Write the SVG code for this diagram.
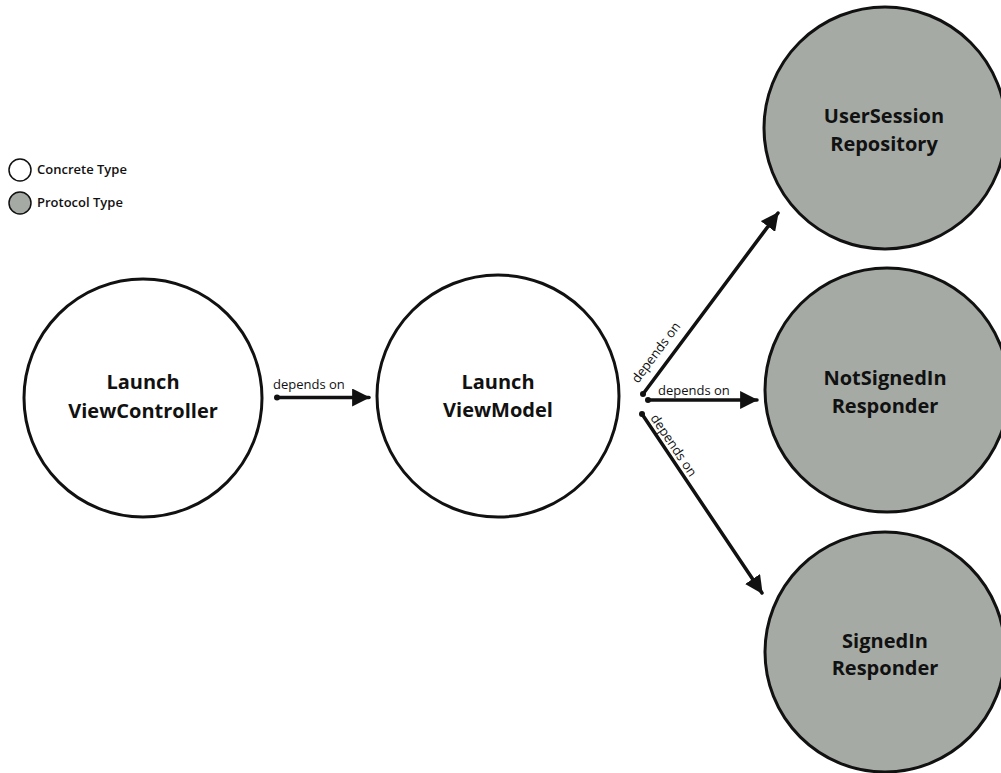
<svg xmlns="http://www.w3.org/2000/svg" width="1001" height="773" viewBox="0 0 1001 773">
<style>
.bg{fill:#ffffff}
.node{stroke:#111;stroke-width:3}
.legend-swatch{stroke:#111;stroke-width:1.5}
.concrete{fill:#ffffff}
.protocol{fill:#a5aaa5}
.label{font-family:"Open Sans","Liberation Sans",sans-serif;font-weight:700;font-size:20px;fill:#111;text-anchor:middle}
.legend{font-family:"Open Sans","Liberation Sans",sans-serif;font-weight:600;font-size:13px;fill:#111}
.edge{stroke:#111;stroke-width:3.5;fill:none;stroke-linecap:round}
.elabel{font-family:"Open Sans","Liberation Sans",sans-serif;font-size:13px;fill:#111}
.dot{fill:#111}
</style>
<defs>
<marker id="arrow" markerUnits="userSpaceOnUse" markerWidth="18" markerHeight="18" viewBox="0 0 16 16" refX="15" refY="8" orient="auto">
<path d="M0,0 L16,8 L0,16 Z" fill="#111"/>
</marker>
</defs>
<rect class="bg" x="0" y="0" width="1001" height="773"/>
<g id="legend">
<circle class="legend-swatch concrete" cx="20" cy="170" r="11"/>
<text class="legend" x="37" y="174">Concrete Type</text>
<circle class="legend-swatch protocol" cx="20" cy="203" r="11"/>
<text class="legend" x="37" y="207">Protocol Type</text>
</g>
<g id="connectors">
<line class="edge" x1="277" y1="397.5" x2="369" y2="397.5" marker-end="url(#arrow)"/>
<circle class="dot" cx="277" cy="397.5" r="3"/>
<text class="elabel" x="273" y="389">depends on</text>
<line class="edge" x1="643" y1="394" x2="778" y2="213" marker-end="url(#arrow)"/>
<circle class="dot" cx="643" cy="394" r="3"/>
<text class="elabel" transform="translate(638,384) rotate(-53.3)">depends on</text>
<line class="edge" x1="648" y1="400" x2="757" y2="400" marker-end="url(#arrow)"/>
<circle class="dot" cx="648" cy="400" r="3"/>
<text class="elabel" x="658" y="395">depends on</text>
<line class="edge" x1="642" y1="414" x2="762" y2="593" marker-end="url(#arrow)"/>
<circle class="dot" cx="642" cy="414" r="3"/>
<text class="elabel" transform="translate(650,418) rotate(56.2)">depends on</text>
</g>
<g id="node-launch-viewcontroller">
<circle class="node concrete" cx="143" cy="398" r="119"/>
<text class="label" x="143" y="389">Launch</text>
<text class="label" x="143" y="418">ViewController</text>
</g>
<g id="node-launch-viewmodel">
<circle class="node concrete" cx="498" cy="396" r="121"/>
<text class="label" x="498" y="389">Launch</text>
<text class="label" x="498" y="417">ViewModel</text>
</g>
<g id="node-usersession-repository">
<circle class="node protocol" cx="885" cy="128" r="121"/>
<text class="label" x="884" y="123">UserSession</text>
<text class="label" x="884" y="151">Repository</text>
</g>
<g id="node-notsignedin-responder">
<circle class="node protocol" cx="887" cy="390" r="122"/>
<text class="label" x="885" y="385">NotSignedIn</text>
<text class="label" x="885" y="413">Responder</text>
</g>
<g id="node-signedin-responder">
<circle class="node protocol" cx="885" cy="652" r="120"/>
<text class="label" x="885" y="648">SignedIn</text>
<text class="label" x="885" y="675">Responder</text>
</g>
</svg>
